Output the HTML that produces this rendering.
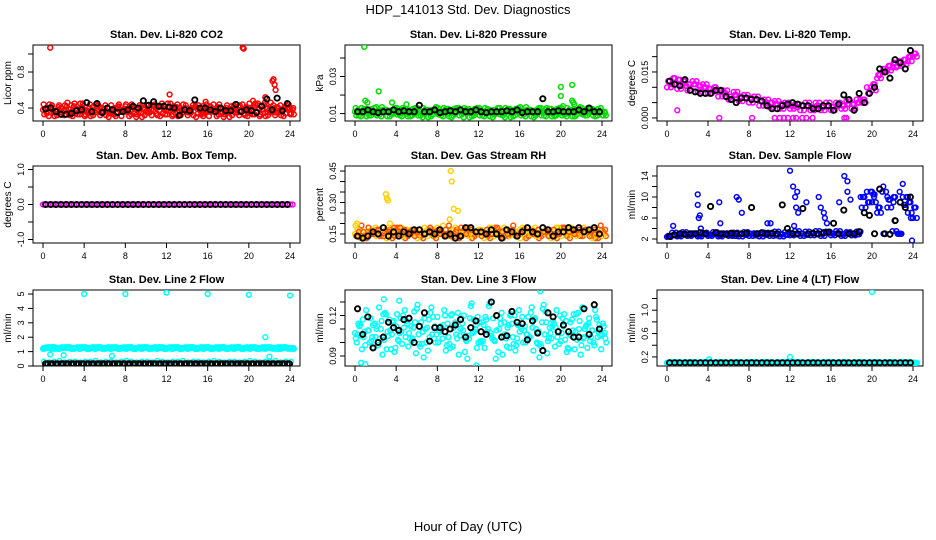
<!DOCTYPE html>
<html><head><meta charset="utf-8">
<style>
html,body{margin:0;padding:0;background:#fff;}
svg{display:block;font-family:"Liberation Sans",sans-serif;}
</style></head>
<body>
<svg id="chart" width="936" height="540" viewBox="0 0 936 540" xmlns="http://www.w3.org/2000/svg">
<text x="468" y="14" text-anchor="middle" font-size="13">HDP_141013  Std. Dev. Diagnostics</text>
<text x="468" y="531" text-anchor="middle" font-size="13">Hour of Day (UTC)</text>
</svg>
<script>
// ---- data (main series sampled every 0.5 h; black series at 0.25 + 0.5 h steps) ----
const hoursA = [0,0.5,1,1.5,2,2.5,3,3.5,4,4.5,5,5.5,6,6.5,7,7.5,8,8.5,9,9.5,10,10.5,11,11.5,12,12.5,13,13.5,14,14.5,15,15.5,16,16.5,17,17.5,18,18.5,19,19.5,20,20.5,21,21.5,22,22.5,23,23.5,24];
const hoursK = [0.25,0.75,1.25,1.75,2.25,2.75,3.25,3.75,4.25,4.75,5.25,5.75,6.25,6.75,7.25,7.75,8.25,8.75,9.25,9.75,10.25,10.75,11.25,11.75,12.25,12.75,13.25,13.75,14.25,14.75,15.25,15.75,16.25,16.75,17.25,17.75,18.25,18.75,19.25,19.75,20.25,20.75,21.25,21.75,22.25,22.75,23.25,23.75];
const xTicks = [0,4,8,12,16,20,24];

const co2A = [.38,.40,.36,.41,.37,.39,.42,.36,.38,.40,.37,.41,.39,.36,.40,.38,.42,.37,.39,.41,.36,.38,.40,.42,.37,.39,.41,.38,.36,.40,.39,.42,.37,.38,.41,.39,.36,.40,.42,.38,.37,.41,.39,.43,.38,.40,.37,.41,.39];
const co2B = [.33,.44,.31,.35,.43,.32,.34,.45,.33,.31,.44,.35,.32,.43,.34,.31,.36,.44,.33,.30,.35,.43,.32,.34,.45,.33,.31,.44,.35,.32,.43,.34,.31,.36,.44,.33,.30,.35,.43,.32,.34,.45,.33,.31,.46,.35,.32,.43,.34];
const co2OutX = [0.7,19.4,19.5,12.3,22.3,22.4,22.5,22.6,20.4,21.6,15.8];
const co2OutY = [1.07,1.07,1.06,.55,.70,.72,.66,.60,.48,.52,.47];
const co2K = [.39,.40,.36,.33,.33,.34,.37,.38,.46,.36,.45,.35,.40,.38,.35,.36,.38,.42,.40,.48,.43,.47,.42,.42,.41,.40,.32,.38,.37,.49,.40,.40,.38,.36,.40,.37,.37,.44,.36,.38,.37,.35,.42,.50,.38,.51,.37,.45];

const presA = [.011,.0105,.012,.011,.010,.0115,.012,.0105,.011,.012,.010,.011,.0115,.010,.011,.012,.0105,.011,.010,.0115,.012,.0105,.011,.010,.0115,.011,.0105,.012,.011,.010,.011,.012,.0105,.0115,.011,.010,.011,.012,.0105,.011,.0115,.010,.011,.012,.0105,.011,.0115,.0105,.011];
const presB = [.009,.013,.0085,.0125,.009,.0135,.0085,.012,.0095,.013,.0085,.0125,.009,.013,.008,.012,.0095,.013,.0085,.0125,.009,.013,.008,.0125,.009,.013,.0085,.012,.0095,.013,.008,.0125,.009,.0135,.0085,.012,.009,.013,.0085,.0125,.009,.013,.0085,.012,.0095,.013,.009,.0125,.009];
const presOutX = [0.9,1.0,1.2,2.3,3.6,5.0,20.0,20.0,21.1,21.1,21.2,21.3,20.2];
const presOutY = [.046,.017,.016,.022,.016,.015,.0244,.0195,.0255,.017,.016,.015,.014];
const presK = [.011,.011,.012,.011,.0105,.011,.011,.012,.011,.0115,.011,.011,.0145,.011,.011,.012,.0105,.011,.0115,.011,.012,.011,.011,.012,.011,.0105,.011,.011,.011,.0115,.011,.012,.0105,.011,.011,.011,.018,.011,.011,.0115,.011,.011,.011,.012,.011,.013,.011,.011];

const tempA = [.012,.013,.0125,.012,.011,.011,.0105,.010,.0095,.010,.009,.008,.007,.0075,.007,.0065,.0065,.006,.0055,.005,.005,.0045,.0045,.004,.004,.0035,.004,.004,.0035,.004,.0035,.004,.0035,.004,.004,.0045,.0045,.005,.006,.008,.011,.014,.016,.017,.018,.0185,.019,.020,.021];
const tempB = [.010,.011,.0095,.0105,.009,.012,.0085,.011,.008,.009,.007,.009,.006,.0085,.0055,.0075,.005,.007,.004,.006,.0035,.0055,.003,.005,.003,.0045,.0025,.005,.0025,.005,.0025,.005,.0025,.005,.003,.0055,.003,.006,.005,.010,.009,.013,.015,.0155,.0165,.017,.0175,.0185,.020];
const tempOutX = [1.0,5.1,8.3,10.5,11.0,11.4,11.8,12.3,12.6,13.2,13.6,14.2,17.3,17.5];
const tempOutY = [.0025,0,0,0,0,0,0,0,0,0,0,0,0,0];
const tempK = [.012,.011,.0105,.0125,.009,.0085,.008,.008,.008,.009,.009,.007,.006,.005,.0065,.0065,.006,.006,.0055,.004,.003,.003,.004,.0045,.005,.0045,.004,.004,.003,.003,.004,.004,.0025,.0045,.0075,.006,.0025,.008,.005,.008,.010,.016,.015,.013,.019,.018,.016,.022];

const ambA = [0,0,0,0,0,0,0,0,0,0,0,0,0,0,0,0,0,0,0,0,0,0,0,0,0,0,0,0,0,0,0,0,0,0,0,0,0,0,0,0,0,0,0,0,0,0,0,0,0];
const ambK = [0,0,0,0,0,0,0,0,0,0,0,0,0,0,0,0,0,0,0,0,0,0,0,0,0,0,0,0,0,0,0,0,0,0,0,0,0,0,0,0,0,0,0,0,0,0,0,0];

const rhA = [.15,.17,.14,.16,.18,.15,.17,.14,.16,.18,.15,.17,.16,.14,.17,.15,.18,.16,.15,.17,.14,.16,.18,.15,.17,.16,.14,.17,.15,.18,.16,.15,.17,.14,.16,.18,.15,.17,.16,.14,.17,.15,.18,.16,.15,.17,.16,.14,.17];
const rhB = [.14,.19,.13,.15,.17,.14,.16,.13,.18,.15,.14,.17,.15,.13,.16,.14,.17,.15,.19,.14,.13,.17,.15,.14,.16,.15,.13,.18,.14,.17,.15,.14,.16,.13,.17,.15,.14,.16,.15,.13,.18,.14,.17,.15,.14,.16,.15,.13,.16];
const rhOutX = [3.0,3.1,3.2,9.3,9.4,9.6,10.0,9.2,0.2,3.4];
const rhOutY = [.34,.32,.31,.45,.40,.27,.26,.22,.20,.20];
const rhK = [.14,.13,.14,.16,.15,.18,.14,.16,.14,.16,.15,.17,.17,.15,.16,.15,.17,.14,.15,.13,.14,.18,.18,.16,.16,.15,.17,.15,.13,.17,.16,.14,.16,.18,.16,.15,.18,.17,.14,.16,.16,.18,.17,.18,.16,.17,.18,.15];

const flowA = [2.6,2.8,2.7,3.0,2.8,2.9,2.7,3.0,2.8,2.9,2.7,3.0,2.8,2.6,2.9,2.8,3.0,2.7,2.9,2.8,3.0,2.7,2.9,2.8,3.1,2.9,3.0,2.8,3.1,2.9,3.0,3.2,3.0,3.1,2.9,3.1,3.0,2.9,10,9,10.5,8,3,9.5,10,3,8.5,9,8];
const flowB = [2.4,3.2,2.5,3.3,2.6,3.1,2.5,3.2,2.6,3.3,2.5,3.1,2.6,3.2,2.5,3.3,2.6,3.1,2.5,3.2,2.6,3.4,2.5,3.3,2.7,3.5,2.6,3.4,2.7,3.5,2.6,3.4,2.7,3.5,2.6,3.3,2.7,3.4,8,11,9,7,11,8,3.5,3,10,7,6];
const flowOutX = [0.6,3.0,3.0,3.1,3.2,3.3,5.1,5.2,6.8,7.0,7.3,9.8,10.1,12.0,12.3,12.5,12.6,12.7,12.8,12.4,13.6,14.8,15.0,15.3,15.4,15.6,16.8,17.3,17.6,17.9,17.6,18.9,21.1,21.5,22.7,23.0,23.5,23.8,23.9,20.0,20.2,22.3,22.1];
const flowOutY = [4.5,10.5,8.5,6,6.5,4,9,5,10,9.5,7,5,5,15,12,10,8,11,7,4.5,9,10,8,7,6,5,9,14,11,9.5,13,10,12,10,11,12.5,10,6,1.7,11,10,5.5,9];
const flowK = [2.5,2.8,3.0,2.9,3.0,3.0,3.2,3.0,8.2,3.2,3.0,2.9,3.1,3.0,3.0,3.1,8.0,3.0,3.2,3.0,3.1,3.0,8.5,4,3.0,3.0,7.8,3.0,3.1,3.0,3.2,3.3,5.0,3.0,7.5,3.0,3.0,3.4,7.0,6.5,3.0,11.5,3.0,2.9,5.5,9,8,10];

const l2A = [1.2,1.25,1.3,1.2,1.25,1.3,1.25,1.2,1.3,1.25,1.2,1.3,1.25,1.2,1.3,1.25,1.2,1.3,1.25,1.2,1.3,1.25,1.2,1.3,1.25,1.2,1.3,1.25,1.2,1.3,1.25,1.2,1.3,1.25,1.2,1.3,1.25,1.2,1.3,1.25,1.2,1.3,1.25,1.2,1.3,1.25,1.2,1.3,1.25];
const l2B = [0.3,0.25,0.3,0.35,0.25,0.3,0.3,0.25,0.3,0.3,0.35,0.25,0.3,0.3,0.25,0.3,0.35,0.3,0.25,0.3,0.3,0.25,0.35,0.3,0.25,0.3,0.3,0.35,0.25,0.3,0.3,0.25,0.3,0.35,0.3,0.25,0.3,0.3,0.25,0.3,0.35,0.3,0.25,0.3,0.3,0.35,0.25,0.3,0.3];
const l2OutX = [4,8,12,16,20,24,21.6,22,0.7,2,6.7];
const l2OutY = [5,5,5.1,5,4.95,4.9,2,0.65,0.8,0.75,0.7];
const l2K = [.15,.15,.15,.15,.15,.15,.15,.15,.15,.15,.15,.15,.15,.15,.15,.15,.15,.15,.15,.15,.15,.15,.15,.15,.15,.15,.15,.15,.15,.15,.15,.15,.15,.15,.15,.15,.15,.15,.15,.15,.15,.15,.15,.15,.15,.15,.15,.15];

const l3A = [.107,.113,.098,.118,.104,.110,.121,.095,.112,.108,.116,.101,.125,.099,.111,.106,.119,.103,.114,.097,.122,.109,.105,.117,.100,.113,.127,.102,.110,.115,.096,.120,.108,.112,.104,.118,.099,.123,.107,.111,.101,.116,.105,.121,.098,.113,.109,.117,.106];
const l3B = [.100,.095,.119,.104,.112,.091,.108,.115,.102,.120,.097,.111,.106,.089,.117,.103,.109,.124,.099,.113,.105,.093,.118,.110,.101,.119,.107,.088,.114,.103,.121,.098,.110,.106,.126,.100,.115,.092,.112,.104,.118,.096,.109,.122,.103,.114,.100,.108,.112];
const l3C = [.114,.104,.109,.096,.126,.102,.117,.093,.107,.124,.103,.115,.097,.110,.122,.100,.112,.094,.120,.106,.118,.101,.129,.096,.115,.108,.103,.120,.091,.111,.104,.113,.100,.119,.094,.108,.128,.103,.114,.099,.121,.106,.095,.116,.110,.101,.124,.105,.103];
const l3OutX = [18,0.6,1.0,2.8,4.3,11.8];
const l3OutY = [.138,.085,.084,.132,.131,.083];
const l3K = [.125,.106,.119,.096,.100,.104,.115,.111,.109,.117,.118,.100,.112,.122,.101,.111,.111,.108,.110,.113,.117,.104,.111,.116,.108,.106,.130,.120,.104,.105,.123,.115,.114,.102,.116,.107,.094,.122,.119,.108,.113,.108,.104,.104,.125,.106,.128,.110];

const l4A = [.1,.1,.11,.1,.1,.11,.1,.1,.11,.1,.1,.11,.1,.1,.11,.1,.1,.11,.1,.1,.11,.1,.1,.11,.1,.1,.11,.1,.1,.11,.1,.1,.11,.1,.1,.11,.1,.1,.11,.1,.1,.11,.1,.1,.11,.1,.1,.11,.1];
const l4OutX = [12,20,4.1];
const l4OutY = [0.2,1.31,0.16];
const l4K = [.1,.1,.1,.1,.1,.1,.1,.1,.1,.1,.1,.1,.1,.1,.1,.1,.1,.1,.1,.1,.1,.1,.1,.1,.1,.1,.1,.1,.1,.1,.1,.1,.1,.1,.1,.1,.1,.1,.1,.1,.1,.1,.1,.1,.1,.1,.1,.1];

// ---- rendering ----
const NS = "http://www.w3.org/2000/svg";
const svg = document.getElementById('chart');
function mk(tag, attrs, parent){ const e=document.createElementNS(NS,tag); for(const k in attrs) e.setAttribute(k,attrs[k]); (parent||svg).appendChild(e); return e; }

const colL=[33,345,657], colR=[300,612,923];
const rowT=[45,166,290], rowB=[121,243,366];

function panel(cfg){
  const l=colL[cfg.c], r=colR[cfg.c], t=rowT[cfg.r], b=rowB[cfg.r];
  const g=mk('g',{});
  
  
  const xs=v=>l+10+(v/24)*(r-l-20);
  const ys=v=>b-(v-cfg.ymin)/(cfg.ymax-cfg.ymin)*(b-t);
  const title=mk('text',{x:(l+r)/2,y:t-7,'text-anchor':'middle','font-size':11,'font-weight':'bold'},g);
  title.textContent=cfg.title;
  
  
  const box=mk('rect',{x:l,y:t,width:r-l,height:b-t,fill:'none',stroke:'#000','stroke-width':1},g);
  
  
  xTicks.forEach(v=>{
    mk('line',{x1:xs(v),x2:xs(v),y1:b,y2:b+5,stroke:'#000'},g);
    const tl=mk('text',{x:xs(v),y:b+16,'text-anchor':'middle','font-size':9},g);
    tl.textContent=v;
    
    
  });
  cfg.yticks.forEach((v,i)=>{
    const y=ys(v);
    mk('line',{x1:l-5,x2:l,y1:y,y2:y,stroke:'#000'},g);
    if(cfg.ylabels[i]){
      const tl=mk('text',{x:l-9,y:y,'text-anchor':'middle','font-size':9,transform:`rotate(-90 ${l-9} ${y})`},g);
      tl.textContent=cfg.ylabels[i];
      
      
    }
  });
  const yl=mk('text',{x:l-22,y:(t+b)/2,'text-anchor':'middle','font-size':10,transform:`rotate(-90 ${l-22} ${(t+b)/2})`},g);
  yl.textContent=cfg.ytitle;
  
  
  const clip='clip'+cfg.r+cfg.c;
  const cp=mk('clipPath',{id:clip},g);
  mk('rect',{x:l,y:t,width:r-l,height:b-t},cp);
  const pts=mk('g',{'clip-path':`url(#${clip})`},g);
  cfg.series.forEach(s=>{
    s.y.forEach((v,i)=>{
      const c=mk('circle',{cx:xs(s.x[i]),cy:ys(v),r:s.k?2.6:2.4,fill:'none',stroke:s.col,'stroke-width':s.k?1.9:1.5},pts);
      
      
    });
  });
}

const RED='#ff0000',GRN='#00dd00',MAG='#ff00ff',BLU='#0000ff',CYN='#00ffff',YEL='#ffd000',ORG='#ff5000',BLK='#000000';
const shift=(arr,d)=>arr.map(v=>v+d);
// dense band: both value arrays drawn at several sub-interval offsets
function band(a,b,col,nm,col2){
  return [
    {x:hoursA,y:a,col:col,nm:nm},
    {x:shift(hoursA,.125),y:b,col:col2||col,nm:nm},
    {x:shift(hoursA,.25),y:a.slice().reverse(),col:col,nm:nm},
    {x:shift(hoursA,.375),y:b.slice().reverse(),col:col2||col,nm:nm},
    {x:shift(hoursA,.06),y:b.slice(1).concat(b[0]),col:col,nm:nm},
    {x:shift(hoursA,.31),y:a.slice(2).concat(a.slice(0,2)),col:col2||col,nm:nm}
  ];
}

panel({r:0,c:0,name:'panel-co2',title:'Stan. Dev. Li-820 CO2',ytitle:'Licor ppm',ymin:.256,ymax:1.1,yticks:[.4,.6,.8,1.0],ylabels:['0.4','','0.8',''],
 series:band(co2A,co2B,RED,'co2-point').concat([{x:co2OutX,y:co2OutY,col:RED,nm:'co2-outlier'},{x:hoursK,y:co2K,col:BLK,k:1,nm:'co2-flagged-point'}])});
panel({r:0,c:1,name:'panel-pressure',title:'Stan. Dev. Li-820 Pressure',ytitle:'kPa',ymin:.006,ymax:.047,yticks:[.01,.02,.03,.04],ylabels:['0.01','','0.03',''],
 series:band(presA,presB,GRN,'pressure-point').concat([{x:presOutX,y:presOutY,col:GRN,nm:'pressure-outlier'},{x:hoursK,y:presK,col:BLK,k:1,nm:'pressure-flagged-point'}])});
panel({r:0,c:2,name:'panel-temp',title:'Stan. Dev. Li-820 Temp.',ytitle:'degrees C',ymin:-.001,ymax:.0238,yticks:[0,.005,.01,.015,.02],ylabels:['0.000','','','0.015',''],
 series:[{x:hoursA,y:tempB,col:MAG,nm:'temp-point'},{x:shift(hoursA,.25),y:tempA,col:MAG,nm:'temp-point'},{x:shift(hoursA,.12),y:tempA,col:MAG,nm:'temp-point'},{x:shift(hoursA,.37),y:tempB,col:MAG,nm:'temp-point'},{x:tempOutX,y:tempOutY,col:MAG,nm:'temp-outlier'},{x:hoursK,y:tempK,col:BLK,k:1,nm:'temp-flagged-point'}]});
panel({r:1,c:0,name:'panel-amb-box-temp',title:'Stan. Dev. Amb. Box Temp.',ytitle:'degrees C',ymin:-1.1,ymax:1.1,yticks:[-1,-.5,0,.5,1],ylabels:['-1.0','','0.0','','1.0'],
 series:[{x:hoursA,y:ambA,col:MAG,nm:'amb-point'},{x:shift(hoursA,.25),y:ambA,col:MAG,nm:'amb-point'},{x:hoursK,y:ambK,col:BLK,k:1,nm:'amb-flagged-point'}]});
panel({r:1,c:1,name:'panel-rh',title:'Stan. Dev. Gas Stream RH',ytitle:'percent',ymin:.107,ymax:.474,yticks:[.15,.2,.25,.3,.35,.4,.45],ylabels:['0.15','','','0.30','','','0.45'],
 series:band(rhA,rhB,YEL,'rh-point',ORG).concat([{x:rhOutX,y:rhOutY,col:YEL,nm:'rh-outlier'},{x:hoursK,y:rhK,col:BLK,k:1,nm:'rh-flagged-point'}])});
panel({r:1,c:2,name:'panel-sample-flow',title:'Stan. Dev. Sample Flow',ytitle:'ml/min',ymin:1.24,ymax:15.9,yticks:[2,4,6,8,10,12,14],ylabels:['2','','6','','10','','14'],
 series:[{x:hoursA,y:flowB,col:BLU,nm:'flow-point'},{x:shift(hoursA,.25),y:flowA,col:BLU,nm:'flow-point'},{x:shift(hoursA,.12),y:flowA,col:BLU,nm:'flow-point'},{x:shift(hoursA,.37),y:flowB,col:BLU,nm:'flow-point'},{x:flowOutX,y:flowOutY,col:BLU,nm:'flow-outlier'},{x:hoursK,y:flowK,col:BLK,k:1,nm:'flow-flagged-point'}]});
panel({r:2,c:0,name:'panel-line2-flow',title:'Stan. Dev. Line 2 Flow',ytitle:'ml/min',ymin:0,ymax:5.28,yticks:[0,1,2,3,4,5],ylabels:['0','1','2','3','4','5'],
 series:band(l2A,l2A,CYN,'line2-point').concat([{x:shift(hoursA,.1),y:l2B,col:CYN,nm:'line2-low-point'},{x:l2OutX,y:l2OutY,col:CYN,nm:'line2-outlier'},{x:hoursK,y:l2K,col:BLK,k:1,nm:'line2-flagged-point'},{x:shift(hoursK,.2),y:l2K,col:BLK,k:1,nm:'line2-flagged-point'}])});
panel({r:2,c:1,name:'panel-line3-flow',title:'Stan. Dev. Line 3 Flow',ytitle:'ml/min',ymin:.0826,ymax:.1389,yticks:[.09,.10,.11,.12,.13],ylabels:['0.09','','','0.12',''],
 series:[{x:hoursA,y:l3A,col:CYN,nm:'line3-point'},{x:shift(hoursA,.17),y:l3B,col:CYN,nm:'line3-point'},{x:shift(hoursA,.33),y:l3C,col:CYN,nm:'line3-point'},{x:shift(hoursA,.08),y:l3C.slice().reverse(),col:CYN,nm:'line3-point'},{x:shift(hoursA,.25),y:l3A.slice().reverse(),col:CYN,nm:'line3-point'},{x:shift(hoursA,.42),y:l3B.slice().reverse(),col:CYN,nm:'line3-point'},{x:l3OutX,y:l3OutY,col:CYN,nm:'line3-outlier'},{x:hoursK,y:l3K,col:BLK,k:1,nm:'line3-flagged-point'}]});
panel({r:2,c:2,name:'panel-line4-flow',title:'Stan. Dev. Line 4 (LT) Flow',ytitle:'ml/min',ymin:.045,ymax:1.345,yticks:[.2,.4,.6,.8,1.0,1.2],ylabels:['0.2','','0.6','','1.0',''],
 series:band(l4A,l4A,CYN,'line4-point').concat([{x:l4OutX,y:l4OutY,col:CYN,nm:'line4-outlier'},{x:hoursK,y:l4K,col:BLK,k:1,nm:'line4-flagged-point'}])});
</script>
</body></html>
